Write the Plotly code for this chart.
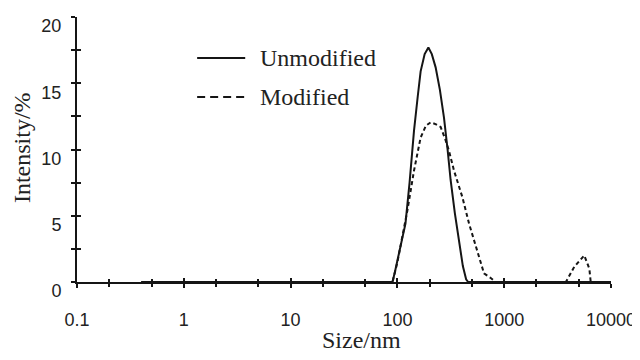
import plotly.graph_objects as go

# Data
size_unmod = [0.4, 90, 95, 105, 119, 130, 143, 155, 165, 180, 195, 210, 228, 250, 273, 295, 315, 345, 378, 410, 440, 460, 10000]
int_unmod = [0, 0, 0.8, 2.5, 4.4, 7.5, 11.4, 14.0, 15.9, 17.2, 17.7, 17.2, 16.2, 14.5, 12.4, 10.0, 7.7, 5.2, 2.9, 1.2, 0.2, 0, 0]

size_mod = [0.4, 90, 100, 112, 124, 143, 165, 185, 205, 230, 254, 280, 304, 339, 370, 406, 469, 561, 647, 748, 832,
            3780, 4530, 5620, 6270, 6460, 10000]
int_mod = [0, 0, 1.5, 3.5, 5.4, 8.4, 10.9, 11.8, 12.05, 11.9, 11.7, 10.8, 9.9, 8.4, 7.4, 6.4, 4.4, 2.2, 0.65, 0.3, 0,
           0, 1.15, 2.0, 1.0, 0, 0]

x_ticks = [0.1, 1, 10, 100, 1000, 10000]
x_ticklabels = ["0.1", "1", "10", "100", "1000", "10000"]
y_ticks = [0, 5, 10, 15, 20]

INK = "#151515"
tickfont = dict(family="Liberation Sans, Arial, sans-serif", size=18, color="#222")
serif = dict(family="Liberation Serif, Times New Roman, serif", size=24, color="#222")

fig = go.Figure()
fig.add_trace(go.Scatter(x=size_unmod, y=int_unmod, mode="lines",
                         line=dict(color=INK, width=2), name="Unmodified", showlegend=False))
fig.add_trace(go.Scatter(x=size_mod, y=int_mod, mode="lines",
                         line=dict(color=INK, width=2, dash="4px,3px"), name="Modified", showlegend=False))

xr = [-1, 4]
yr = [0, 20]
# page body has an 8px margin, so the figure is sized/placed to compensate
fig.update_layout(
    width=632, height=352,
    margin=dict(l=69, r=29, t=9, b=78),
    paper_bgcolor="white", plot_bgcolor="white",
    showlegend=False,
    xaxis=dict(type="log", range=xr, tickvals=x_ticks, ticktext=x_ticklabels, automargin=False,
               showgrid=False, zeroline=False, showline=True, linecolor=INK, linewidth=2,
               ticks="outside", ticklen=4, tickwidth=2, tickcolor=INK,
               minor=dict(ticks="outside", ticklen=3, tickwidth=1.5, tickcolor=INK, showgrid=False),
               tickfont=tickfont, ticklabelstandoff=16, ticklabeloverflow="allow"),
    yaxis=dict(range=yr, tickvals=y_ticks, showgrid=False, zeroline=False, automargin=False,
               showline=True, linecolor=INK, linewidth=2,
               ticks="outside", ticklen=4, tickwidth=2, tickcolor=INK,
               minor=dict(dtick=2.5, ticks="outside", ticklen=4, tickwidth=2, tickcolor=INK, showgrid=False),
               tickfont=tickfont, ticklabelshift=9, ticklabelstandoff=6, ticklabeloverflow="allow"),
    xaxis2=dict(type="log", range=xr, overlaying="x", anchor="y", side="bottom", automargin=False,
                tickvals=x_ticks, showticklabels=False, showgrid=False, zeroline=False, showline=False,
                ticks="inside", ticklen=4, tickwidth=2, tickcolor=INK,
                minor=dict(ticks="inside", ticklen=3, tickwidth=1.5, tickcolor=INK, showgrid=False)),
    yaxis2=dict(range=yr, overlaying="y", anchor="x", side="left", automargin=False,
                tickvals=y_ticks, showticklabels=False, showgrid=False, zeroline=False, showline=False,
                ticks="inside", ticklen=4, tickwidth=2, tickcolor=INK,
                minor=dict(dtick=2.5, ticks="inside", ticklen=4, tickwidth=2, tickcolor=INK, showgrid=False)),
)
# invisible trace to activate overlay axes
fig.add_trace(go.Scatter(x=[1], y=[0], xaxis="x2", yaxis="y2", mode="markers",
                         marker=dict(opacity=0), hoverinfo="skip", showlegend=False))

# Axis titles
fig.add_annotation(text="Intensity/%", xref="paper", yref="paper", x=-0.103, y=0.509,
                   textangle=-90, showarrow=False, font=serif, xanchor="center", yanchor="middle")
fig.add_annotation(text="Size/nm", xref="paper", yref="paper", x=0.532, y=-0.219,
                   showarrow=False, font=serif, xanchor="center", yanchor="middle")

# Manual legend
fig.add_shape(type="line", xref="paper", yref="paper", x0=0.225, x1=0.315, y0=0.845, y1=0.845,
              line=dict(color=INK, width=2))
fig.add_shape(type="line", xref="paper", yref="paper", x0=0.225, x1=0.315, y0=0.698, y1=0.698,
              line=dict(color=INK, width=2, dash="8px,5px"))
fig.add_annotation(text="Unmodified", xref="paper", yref="paper", x=0.339, y=0.845,
                   showarrow=False, font=serif, xanchor="left", yanchor="middle")
fig.add_annotation(text="Modified", xref="paper", yref="paper", x=0.339, y=0.698,
                   showarrow=False, font=serif, xanchor="left", yanchor="middle")

fig.write_html("out.html")
